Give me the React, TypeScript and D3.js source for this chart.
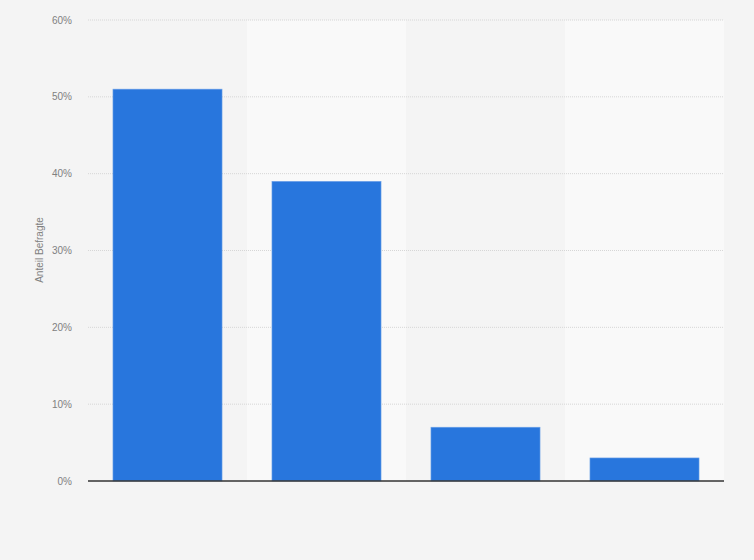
import React from "react";
import * as d3 from "d3";

const categories = ["A", "B", "C", "D"];
const values = [51, 39, 7, 3];
const yTicks = [0, 10, 20, 30, 40, 50, 60];

const W = 754;
const H = 560;
const left = 88;
const right = 724;
const top = 20;
const bottom = 481;

export default function App() {
  const x = d3
    .scaleBand<string>()
    .domain(categories)
    .range([left, right])
    .paddingInner(0.314)
    .paddingOuter(0.157);
  const y = d3.scaleLinear().domain([0, 60]).range([bottom, top]);
  const step = x.step();
  const font = "Arial, 'Liberation Sans', sans-serif";

  return (
    <svg
      width={W}
      height={H}
      style={{ position: "absolute", left: 0, top: 0, display: "block" }}
    >
      <rect x={0} y={0} width={W} height={H} fill="#f4f4f4" />
      {categories.map((c, i) =>
        i % 2 === 1 ? (
          <rect
            key={"band" + c}
            x={(x(c) as number) - (step * 0.314) / 2}
            y={top}
            width={step}
            height={bottom - top}
            fill="#f9f9f9"
          />
        ) : null
      )}
      {yTicks.map((t) =>
        t === 0 ? null : (
          <line
            key={"g" + t}
            x1={left}
            x2={right}
            y1={y(t)}
            y2={y(t)}
            stroke="#d6d6d6"
            strokeWidth={1}
            strokeDasharray="1,1"
          />
        )
      )}
      {yTicks.map((t) => (
        <text
          key={"t" + t}
          x={72}
          y={y(t)}
          dy="0.35em"
          textAnchor="end"
          fontSize={10}
          fontFamily={font}
          fill="#808080"
        >
          {t + "%"}
        </text>
      ))}
      {categories.map((c, i) => (
        <rect
          key={"bar" + c}
          x={x(c)}
          y={y(values[i])}
          width={x.bandwidth()}
          height={bottom - y(values[i])}
          fill="#2876dd"
          stroke="#6fa3e8"
          strokeWidth={0.6}
        />
      ))}
      <line x1={left} x2={right} y1={bottom} y2={bottom} stroke="#333" strokeWidth={1.3} />
      <text
        transform={`translate(43,250) rotate(-90)`}
        textAnchor="middle"
        fontSize={10}
        fontFamily={font}
        fill="#808080"
      >
        Anteil Befragte
      </text>
    </svg>
  );
}
